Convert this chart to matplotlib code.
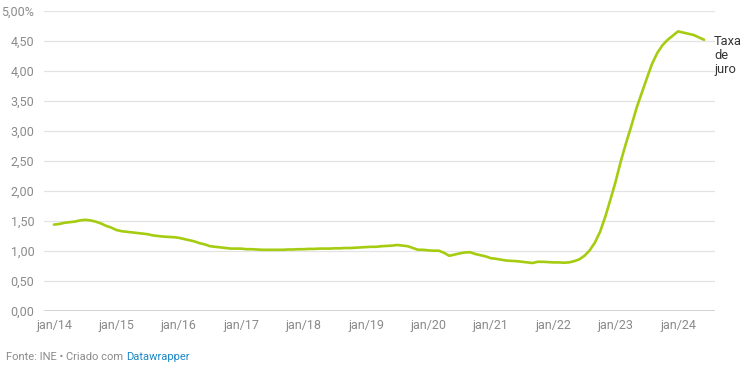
import matplotlib
matplotlib.use("Agg")
import matplotlib.pyplot as plt
import numpy as np

# Monthly values, Jan 2014 - Jun 2024 (%)
rate_2014 = [1.44, 1.45, 1.47, 1.48, 1.49, 1.51, 1.52, 1.51, 1.49, 1.46, 1.42, 1.39]
rate_2015 = [1.35, 1.33, 1.32, 1.31, 1.30, 1.29, 1.28, 1.26, 1.25, 1.24, 1.235, 1.23]
rate_2016 = [1.22, 1.20, 1.18, 1.16, 1.13, 1.11, 1.08, 1.07, 1.06, 1.05, 1.04, 1.04]
rate_2017 = [1.04, 1.03, 1.03, 1.025, 1.02, 1.02, 1.02, 1.02, 1.02, 1.025, 1.025, 1.03]
rate_2018 = [1.03, 1.035, 1.035, 1.04, 1.04, 1.04, 1.045, 1.045, 1.05, 1.05, 1.055, 1.06]
rate_2019 = [1.065, 1.07, 1.07, 1.08, 1.085, 1.09, 1.10, 1.09, 1.08, 1.05, 1.02, 1.02]
rate_2020 = [1.01, 1.005, 1.005, 0.97, 0.92, 0.94, 0.96, 0.975, 0.98, 0.95, 0.93, 0.91]
rate_2021 = [0.88, 0.87, 0.855, 0.84, 0.835, 0.83, 0.82, 0.81, 0.80, 0.82, 0.82, 0.815]
rate_2022 = [0.81, 0.81, 0.805, 0.81, 0.83, 0.86, 0.92, 1.01, 1.14, 1.32, 1.57, 1.86]
rate_2023 = [2.16, 2.50, 2.80, 3.08, 3.38, 3.63, 3.88, 4.12, 4.30, 4.43, 4.52, 4.59]
rate_2024 = [4.66, 4.64, 4.62, 4.60, 4.56, 4.52]

rates = (rate_2014 + rate_2015 + rate_2016 + rate_2017 + rate_2018 + rate_2019
         + rate_2020 + rate_2021 + rate_2022 + rate_2023 + rate_2024)
months = np.arange(len(rates))

x_tick_labels = ["jan/14", "jan/15", "jan/16", "jan/17", "jan/18", "jan/19",
                 "jan/20", "jan/21", "jan/22", "jan/23", "jan/24"]
y_ticks = [0, 0.5, 1.0, 1.5, 2.0, 2.5, 3.0, 3.5, 4.0, 4.5, 5.0]
y_tick_labels = ["0,00", "0,50", "1,00", "1,50", "2,00", "2,50", "3,00",
                 "3,50", "4,00", "4,50", "5,00%"]
series_label = "Taxa\nde\njuro"
source_text = "Fonte: INE • Criado com "
source_link = "Datawrapper"

plt.rcParams['font.family'] = ['Roboto', 'DejaVu Sans']

W, H = 749, 373
fig = plt.figure(figsize=(W / 100, H / 100), dpi=100)
ax = fig.add_axes([44 / W, 1 - 311 / H, (715 - 44) / W, 300 / H])

line_color = "#a5cc10"
ax.plot(months, rates, color=line_color, lw=1.9, solid_capstyle="round",
        solid_joinstyle="round", zorder=3)

ax.set_ylim(0, 5)
ax.set_xlim(-1.92, 127.1)
ax.set_yticks(y_ticks)
ax.set_yticklabels(y_tick_labels)
ax.set_xticks(np.arange(len(x_tick_labels)) * 12)
ax.set_xticklabels(x_tick_labels)

for yv in y_ticks[1:]:
    ax.axhline(yv, color="#e3e3e3", lw=0.9, zorder=1)
ax.axhline(0, color="#222222", lw=1.0, zorder=2)

for s in ax.spines.values():
    s.set_visible(False)
ax.tick_params(axis="both", length=0, labelsize=9, labelcolor="#8a8a8a")
ax.tick_params(axis="y", pad=7)
ax.tick_params(axis="x", pad=6)

ax.text(126.9, rates[-1] + 0.08, series_label, transform=ax.transData,
        ha="left", va="top", fontsize=9.3, color="#333333", linespacing=1.12,
        clip_on=False)

t1 = fig.text(6 / W, 1 - 357 / H, source_text, fontsize=8, color="#8a8a8a",
              ha="left", va="center")
fig.canvas.draw()
r = fig.canvas.get_renderer()
bb = t1.get_window_extent(renderer=r)
fig.text(bb.x1 / W, 1 - 357 / H, source_link, fontsize=8, color="#1d87c5",
         ha="left", va="center")

fig.savefig("out.png", dpi=100)
